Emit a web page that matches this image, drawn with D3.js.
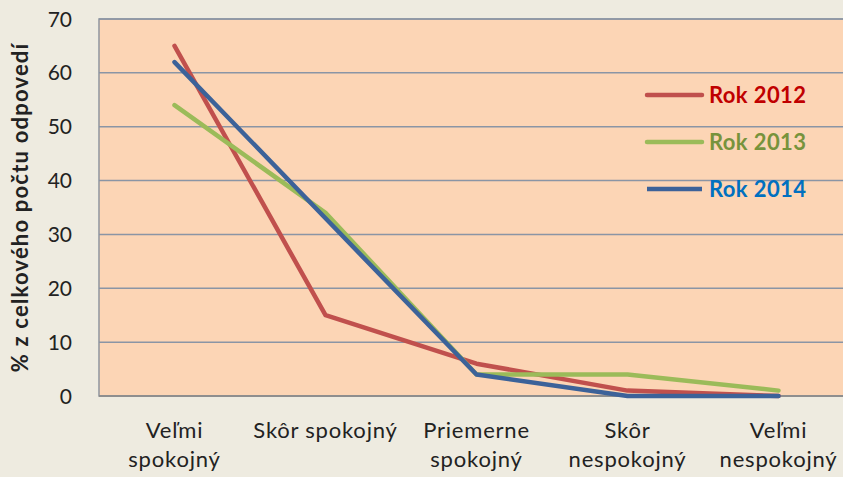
<!DOCTYPE html>
<html>
<head>
<meta charset="utf-8">
<script src="https://cdn.jsdelivr.net/npm/d3@7"></script>
<style>
  body { margin: 0; background: #EEEBE0; }
  svg { display: block; font-family: Lato, "Open Sans", sans-serif; }
</style>
</head>
<body>
<div id="chart"></div>
<script>
// categories (two-line labels)
const categories = ["Veľmi spokojný", "Skôr spokojný", "Priemerne spokojný", "Skôr nespokojný", "Veľmi nespokojný"];
const categoryLines = [["Veľmi", "spokojný"], ["Skôr spokojný"], ["Priemerne", "spokojný"], ["Skôr", "nespokojný"], ["Veľmi", "nespokojný"]];

const values2012 = [65, 15, 6, 1, 0];
const values2013 = [54, 34, 4, 4, 1];
const values2014 = [62, 33, 4, 0, 0];

const yTicks = [0, 10, 20, 30, 40, 50, 60, 70];

const series = [
  {name: "Rok 2012", values: values2012, color: "#C0504D", text: "#C00000"},
  {name: "Rok 2013", values: values2013, color: "#9BBB59", text: "#77933C"},
  {name: "Rok 2014", values: values2014, color: "#3C6299", text: "#0070C0"}
];

const width = 843, height = 477;
const margin = {top: 19, right: -11, bottom: 81, left: 99};

const svg = d3.select("#chart").append("svg")
  .attr("width", width)
  .attr("height", height);

const x = d3.scalePoint()
  .domain(categories)
  .range([margin.left, width - margin.right])
  .padding(0.5);

const y = d3.scaleLinear()
  .domain([0, 70])
  .range([height - margin.bottom, margin.top]);

// plot area
svg.append("rect")
  .attr("x", margin.left)
  .attr("y", margin.top)
  .attr("width", width - margin.right - margin.left)
  .attr("height", y(0) - y(70))
  .attr("fill", "#FCD5B5")
  .attr("stroke", "#8E959E")
  .attr("stroke-width", 1.5);

// gridlines
svg.append("g")
  .selectAll("line")
  .data(yTicks)
  .enter()
  .append("line")
  .attr("x1", margin.left)
  .attr("x2", width)
  .attr("y1", d => y(d))
  .attr("y2", d => y(d))
  .attr("stroke", d => d == 0 ? "#8E8E8E" : "#8A95A5")
  .attr("stroke-width", d => d == 0 ? 2 : 1.5);

// y tick labels
svg.append("g")
  .selectAll("text")
  .data(yTicks)
  .enter()
  .append("text")
  .attr("x", 72)
  .attr("y", d => y(d))
  .attr("dy", "0.36em")
  .attr("text-anchor", "end")
  .attr("font-size", 21)
  .attr("fill", "#222")
  .text(d => d);

// y axis title
svg.append("text")
  .attr("transform", `translate(28, ${(y(0) + y(70)) / 2}) rotate(-90)`)
  .attr("text-anchor", "middle")
  .attr("font-size", 22)
  .attr("font-weight", "bold")
  .attr("letter-spacing", 1.2)
  .attr("fill", "#222")
  .text("% z celkového počtu odpovedí");

// x labels
const xl = svg.append("g")
  .selectAll("text")
  .data(categories)
  .enter()
  .append("text")
  .attr("x", d => x(d))
  .attr("y", 438)
  .attr("text-anchor", "middle")
  .attr("font-size", 22)
  .attr("letter-spacing", 0.8)
  .attr("fill", "#222");

xl.selectAll("tspan")
  .data((d, i) => categoryLines[i])
  .enter()
  .append("tspan")
  .attr("x", function () { return d3.select(this.parentNode).attr("x"); })
  .attr("dy", (d, i) => i == 0 ? 0 : 29)
  .text(d => d);

// lines
const line = d3.line()
  .x((d, i) => x(categories[i]))
  .y(d => y(d));

svg.append("g")
  .selectAll("path")
  .data(series)
  .enter()
  .append("path")
  .attr("d", d => line(d.values))
  .attr("fill", "none")
  .attr("stroke", d => d.color)
  .attr("stroke-width", 4.5)
  .attr("stroke-linejoin", "round")
  .attr("stroke-linecap", "round");

// legend
const legend = svg.append("g")
  .selectAll("g")
  .data(series)
  .enter()
  .append("g")
  .attr("transform", (d, i) => `translate(647, ${95 + i * 47})`);

legend.append("line")
  .attr("x1", 0)
  .attr("x2", 55)
  .attr("stroke", d => d.color)
  .attr("stroke-width", 4.5)
  .attr("stroke-linecap", d => d.name == "Rok 2014" ? "butt" : "round");

legend.append("text")
  .attr("x", 62)
  .attr("dy", "0.36em")
  .attr("font-size", 22)
  .attr("font-weight", "bold")
  .attr("letter-spacing", 0.4)
  .attr("fill", d => d.text)
  .text(d => d.name);
</script>
</body>
</html>
